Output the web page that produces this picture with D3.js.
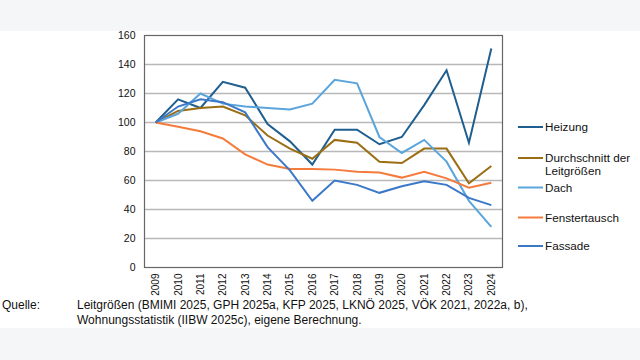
<!DOCTYPE html>
<html><head><meta charset="utf-8">
<script src="https://cdn.jsdelivr.net/npm/d3@7"></script>
<style>
html,body{margin:0;padding:0;background:#f5f6f8;}
svg{display:block;font-family:"Liberation Sans",Arial,sans-serif;}
</style></head>
<body>
<svg id="c" width="640" height="360"></svg>
<script>
const years = ["2009","2010","2011","2012","2013","2014","2015","2016","2017","2018","2019","2020","2021","2022","2023","2024"];
const yTicks = [0,20,40,60,80,100,120,140,160];
const heizung =      [100,116,110,128,124,99,87,71,95,95,85,90,112,136,86,151];
const durchschnitt = [100,108,110,111,105,91,82,75,88,86,73,72,82,82,58,70];
const dach =         [100,106,120,113,111,110,109,113,129.5,127,90,79,88,73,46,28];
const fenster =      [100,97,94,89,78,71,68,68,67.5,66,65.5,62,66,61.5,55,58.5];
const fassade =      [100,111,116,114,107,83,67,46,60,57,51.5,56,59.5,57,48,43];
const seriesNames = ["Heizung","Durchschnitt der|Leitgrößen","Dach","Fenstertausch","Fassade"];
const seriesColors = ["#1f5f8f","#9a6e14","#5aa5dc","#f47b3c","#3c78c8"];
const seriesData = [heizung,durchschnitt,dach,fenster,fassade];
const sourceLabel = "Quelle:";
const sourceLines = ["Leitgrößen (BMIMI 2025, GPH 2025a, KFP 2025, LKNÖ 2025, VÖK 2021, 2022a, b),","Wohnungsstatistik (IIBW 2025c), eigene Berechnung."];

const svg = d3.select("#c");
svg.append("rect").attr("x",0).attr("y",31).attr("width",640).attr("height",297).attr("fill","#ffffff");

const L=144.5, R=502.5, T=35.5, B=267.5;
const x = d3.scaleBand().domain(years).range([L,R]);
const y = d3.scaleLinear().domain([0,160]).range([B,T]);

// gridlines
svg.append("g").selectAll("line").data(yTicks.filter(d=>d>0&&d<160)).join("line")
  .attr("x1",L).attr("x2",R).attr("y1",d=>y(d)).attr("y2",d=>y(d))
  .attr("stroke","#b8b8b8").attr("stroke-width",1.5);

// y axis labels
const ya = svg.append("g").attr("transform",`translate(${L},0)`)
  .call(d3.axisLeft(y).tickValues(yTicks).tickSize(0).tickPadding(9));
ya.select(".domain").remove();
ya.selectAll("text").attr("font-size",10.5).attr("fill","#111").attr("font-family","Liberation Sans, Arial, sans-serif");

// x axis labels
const xa = svg.append("g").attr("transform",`translate(0,${B})`)
  .call(d3.axisBottom(x).tickSize(0));
xa.select(".domain").remove();
xa.selectAll("text").attr("font-size",10).attr("fill","#111").attr("font-family","Liberation Sans, Arial, sans-serif")
  .attr("text-anchor","end").attr("dy","0.35em")
  .attr("transform","translate(0,6) rotate(-90)").attr("x",0).attr("y",0);

// lines
const line = d3.line().x((d,i)=>x(years[i])+x.bandwidth()/2).y(d=>y(d));
svg.append("g").selectAll("path").data(seriesData).join("path")
  .attr("d",d=>line(d)).attr("fill","none")
  .attr("stroke",(d,i)=>seriesColors[i]).attr("stroke-width",2).attr("stroke-linejoin","miter");

// frame
svg.append("rect").attr("x",L).attr("y",T).attr("width",R-L).attr("height",B-T)
  .attr("fill","none").attr("stroke","#666").attr("stroke-width",1.2);

// legend
const legY = [127,158,187.5,217.5,246];
const lg = svg.append("g").selectAll("g").data(seriesNames).join("g")
  .attr("transform",(d,i)=>`translate(518,${legY[i]})`);
lg.append("line").attr("x1",0).attr("x2",25).attr("y1",0).attr("y2",0)
  .attr("stroke",(d,i)=>seriesColors[i]).attr("stroke-width",2);
lg.each(function(d){
  const parts=d.split("|");
  const t=d3.select(this).append("text").attr("x",27).attr("y",0).attr("font-size",11.7).attr("fill","#111");
  parts.forEach((p,j)=>t.append("tspan").attr("x",27).attr("dy",j===0?"0.35em":"1.1em").text(p));
});

// source
svg.append("text").attr("x",2).attr("y",309).attr("font-size",12).attr("fill","#111").text(sourceLabel);
svg.append("g").selectAll("text").data(sourceLines).join("text")
  .attr("x",77).attr("y",(d,i)=>309+i*14.7).attr("font-size",12).attr("fill","#111").text(d=>d);
</script>
</body></html>
